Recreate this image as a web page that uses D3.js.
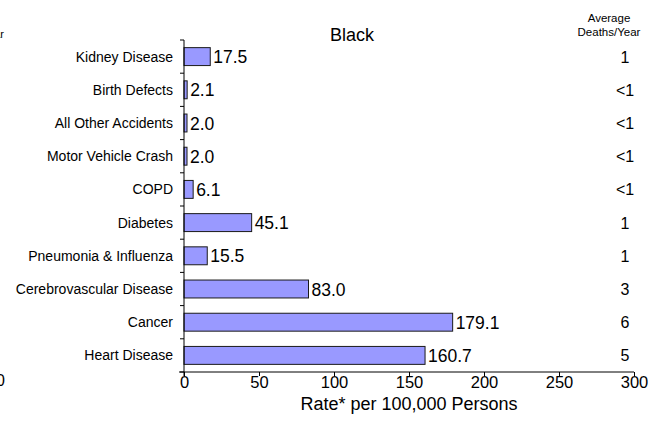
<!DOCTYPE html>
<html>
<head>
<meta charset="utf-8">
<script src="https://cdn.jsdelivr.net/npm/d3@7"></script>
<style>
  html, body { margin: 0; padding: 0; background: #fff; }
  svg { display: block; font-family: Arial, "Liberation Sans", sans-serif; }
</style>
</head>
<body>
<svg id="chart" width="653" height="439"></svg>
<script>
// Causes of death, top to bottom as listed
const causes = ["Kidney Disease", "Birth Defects", "All Other Accidents", "Motor Vehicle Crash",
  "COPD", "Diabetes", "Pneumonia & Influenza", "Cerebrovascular Disease", "Cancer", "Heart Disease"];
// Age-adjusted rate per 100,000 persons
const rates = [17.5, 2.1, 2.0, 2.0, 6.1, 45.1, 15.5, 83.0, 179.1, 160.7];
// Rate labels as printed
const rateLabels = ["17.5", "2.1", "2.0", "2.0", "6.1", "45.1", "15.5", "83.0", "179.1", "160.7"];
// Average deaths per year
const deaths = ["1", "<1", "<1", "<1", "<1", "1", "1", "3", "6", "5"];
const xTicks = [0, 50, 100, 150, 200, 250, 300];

const svg = d3.select("#chart");
const plotLeft = 184, plotRight = 634, plotTop = 40, plotBottom = 372;

const x = d3.scaleLinear().domain([0, 300]).range([plotLeft, plotRight]);
const y = d3.scaleBand().domain(causes).range([plotTop, plotBottom]).paddingInner(0.46).paddingOuter(0.23);

// Neighbouring panel edge
svg.append("text").attr("x", 4).attr("y", 38).attr("text-anchor", "end")
  .attr("font-size", 11).text("Year");
svg.append("text").attr("x", 5).attr("y", 386).attr("text-anchor", "end")
  .attr("font-size", 16).text("300");

// Title and column header
svg.append("text").attr("x", 352).attr("y", 41).attr("text-anchor", "middle")
  .attr("font-size", 18).text("Black");
svg.append("text").attr("x", 609).attr("y", 22).attr("text-anchor", "middle")
  .attr("font-size", 11.5).text("Average");
svg.append("text").attr("x", 609).attr("y", 36).attr("text-anchor", "middle")
  .attr("font-size", 11.5).text("Deaths/Year");

// Bars
svg.selectAll("rect.bar").data(causes).enter().append("rect")
  .attr("class", "bar")
  .attr("x", x(0))
  .attr("y", d => y(d))
  .attr("width", (d, i) => x(rates[i]) - x(0))
  .attr("height", y.bandwidth())
  .attr("fill", "#9999ff")
  .attr("stroke", "#1a1a1a")
  .attr("stroke-width", 1);

// Value labels
svg.selectAll("text.val").data(causes).enter().append("text")
  .attr("class", "val")
  .attr("x", (d, i) => x(rates[i]) + 3)
  .attr("y", d => y(d) + y.bandwidth() / 2)
  .attr("dy", "0.38em")
  .attr("font-size", 17.5)
  .text((d, i) => rateLabels[i]);

// Deaths column
svg.selectAll("text.deaths").data(causes).enter().append("text")
  .attr("class", "deaths")
  .attr("x", 625)
  .attr("y", d => y(d) + y.bandwidth() / 2)
  .attr("dy", "0.38em")
  .attr("text-anchor", "middle")
  .attr("font-size", 16)
  .text((d, i) => deaths[i]);

// Category axis
const yAxis = svg.append("g").attr("transform", `translate(${plotLeft},0)`);
yAxis.append("line").attr("x1", 0).attr("x2", 0).attr("y1", plotTop).attr("y2", plotBottom + 4)
  .attr("stroke", "#000");
const tickYs = d3.range(causes.length + 1).map(i => plotTop + i * (plotBottom - plotTop) / causes.length);
yAxis.selectAll("line.tk").data(tickYs).enter().append("line")
  .attr("class", "tk").attr("x1", -4).attr("x2", 0)
  .attr("y1", d => d).attr("y2", d => d).attr("stroke", "#000");
yAxis.selectAll("text.cat").data(causes).enter().append("text")
  .attr("class", "cat")
  .attr("x", -11)
  .attr("y", d => y(d) + y.bandwidth() / 2)
  .attr("dy", "0.36em")
  .attr("text-anchor", "end")
  .attr("font-size", 14)
  .text(d => d);

// Value axis
const xAxis = svg.append("g").attr("transform", `translate(0,${plotBottom})`)
  .call(d3.axisBottom(x).tickValues(xTicks).tickSize(4).tickPadding(0).tickFormat(d3.format("d")));
xAxis.select(".domain").attr("d", `M${plotLeft - 5},0H${plotRight}`).attr("stroke", "#000");
xAxis.selectAll(".tick line").attr("stroke", "#000");
xAxis.selectAll(".tick text").attr("font-size", 16.5).attr("fill", "#000")
  .attr("font-family", "Arial, 'Liberation Sans', sans-serif");

svg.append("text").attr("x", 409).attr("y", 410).attr("text-anchor", "middle")
  .attr("font-size", 18).text("Rate* per 100,000 Persons");
</script>
</body>
</html>
